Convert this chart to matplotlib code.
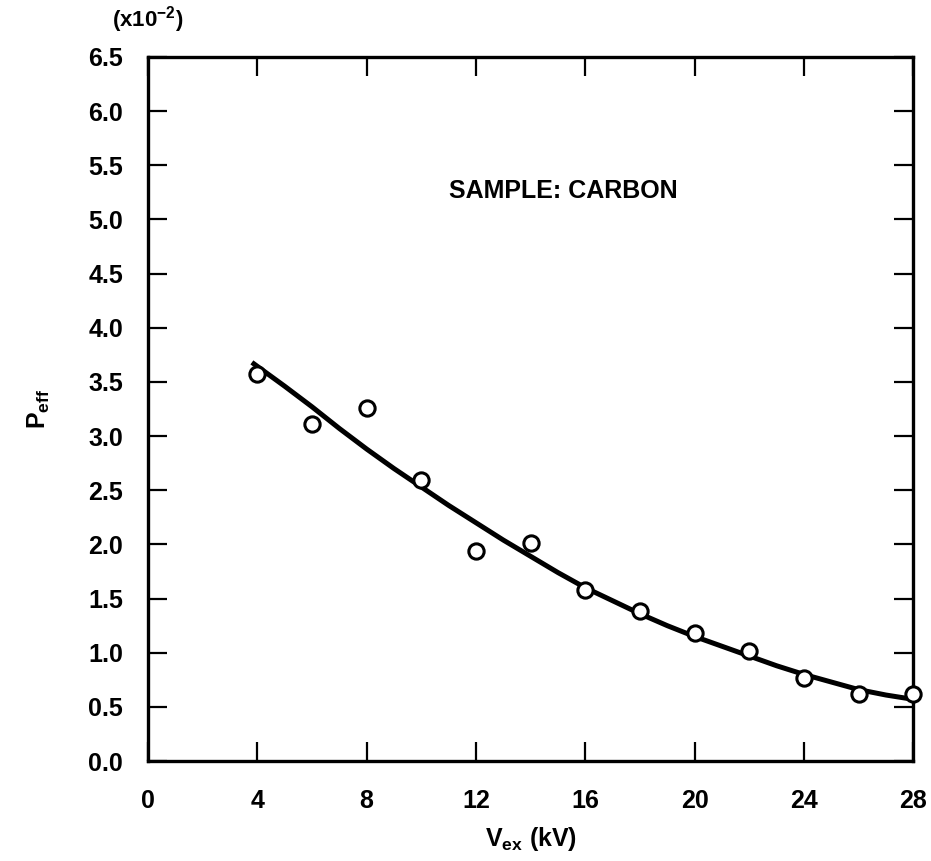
import numpy as np
import matplotlib
matplotlib.use('Agg')
import matplotlib.pyplot as plt

plt.rcParams['font.family'] = ['Liberation Sans', 'DejaVu Sans']
plt.rcParams['font.weight'] = 'bold'
plt.rcParams['mathtext.fontset'] = 'custom'
plt.rcParams['mathtext.rm'] = 'Liberation Sans:bold'
plt.rcParams['mathtext.bf'] = 'Liberation Sans:bold'

# measured points
v_ex = [4, 6, 8, 10, 12, 14, 16, 18, 20, 22, 24, 26, 28]
p_eff = [3.57, 3.11, 3.26, 2.59, 1.94, 2.01, 1.58, 1.39, 1.18, 1.02, 0.77, 0.62, 0.62]

# fitted curve
fit_x = [3.8, 5, 6, 7, 8, 9, 10, 11, 12, 13, 14, 15, 16, 17, 18, 19, 20, 21, 22, 23, 24, 25, 26, 27, 28]
fit_y = [3.68, 3.46, 3.27, 3.07, 2.88, 2.70, 2.53, 2.36, 2.20, 2.04, 1.89, 1.74, 1.60, 1.48, 1.36, 1.25, 1.15, 1.06, 0.97, 0.88, 0.80, 0.73, 0.66, 0.61, 0.57]

xticks = [0, 4, 8, 12, 16, 20, 24, 28]
yticks = [0.0, 0.5, 1.0, 1.5, 2.0, 2.5, 3.0, 3.5, 4.0, 4.5, 5.0, 5.5, 6.0, 6.5]

fig = plt.figure(figsize=(9.31, 8.61), dpi=100)
ax = fig.add_axes([0.159, 0.116, 0.822, 0.818])

ax.plot(fit_x, fit_y, color='black', lw=3.6, solid_capstyle='butt', zorder=2)
ax.plot(v_ex, p_eff, 'o', mfc='white', mec='black', mew=2.2, ms=11, zorder=3, clip_on=False)

ax.set_xlim(0, 28)
ax.set_ylim(0, 6.5)
ax.set_xticks(xticks)
ax.set_yticks(yticks)
ax.set_yticklabels(['%.1f' % t for t in yticks])
ax.tick_params(direction='in', length=14, width=1.6, labelsize=18,
               top=True, right=True)
ax.tick_params(axis='x', pad=20)
ax.tick_params(axis='y', pad=18)
for s in ax.spines.values():
    s.set_linewidth(2.4)

ax.set_xlabel(r'V$_{\mathbf{ex}}$ (kV)', fontsize=18, fontweight='bold', labelpad=9)
ax.set_ylabel(r'P$_{\mathbf{eff}}$', fontsize=18, fontweight='bold', labelpad=26)
ax.text(15.2, 5.26, 'SAMPLE: CARBON', fontsize=18, fontweight='bold', ha='center', va='center')
ax.annotate(r'(x10$^{\mathbf{-2}}$)', xy=(0, 1), xycoords='axes fraction', xytext=(0, 16),
            textcoords='offset points', fontsize=16, fontweight='bold', ha='center', va='bottom')

fig.savefig('out.png', dpi=100)
